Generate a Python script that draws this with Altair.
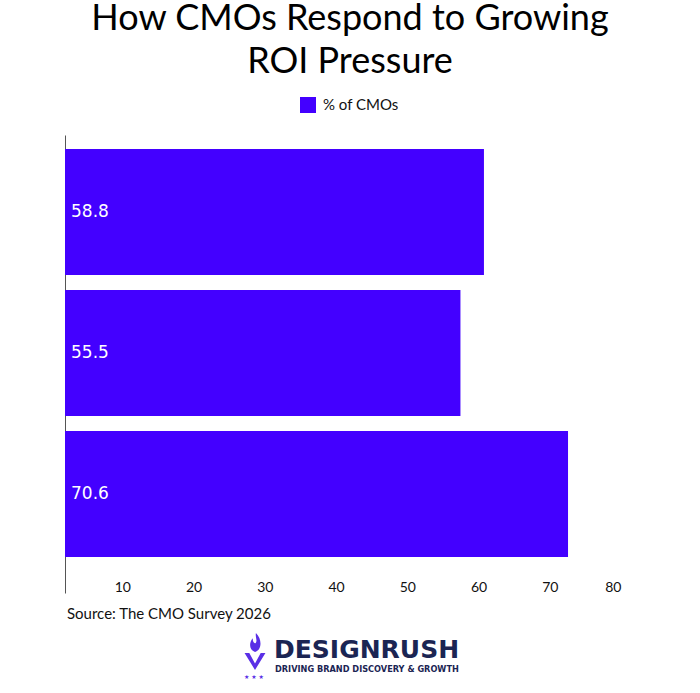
import altair as alt
import pandas as pd

# Survey responses (category names are not shown on the chart)
categories = ["Response A", "Response B", "Response C"]
values = [58.8, 55.5, 70.6]
series_name = "% of CMOs"
tick_values = [10, 20, 30, 40, 50, 60, 70, 80]

BAR_COLOR = "#4300FF"
NAVY = "#1B2553"
LOGO_PURPLE = "#5A2FE6"
FONT = "Lato"

df = pd.DataFrame({"category": categories, "value": values, "series": series_name})

W, H = 570, 458

base = alt.Chart(df)

bars = base.mark_bar(color=BAR_COLOR).encode(
    x=alt.X(
        "value:Q",
        scale=alt.Scale(domain=[0, 80], nice=False, zero=True),
        axis=alt.Axis(
            values=tick_values,
            title=None,
            domain=False,
            ticks=False,
            grid=False,
            labelOffset=-14,
            offset=-15,
            labelFont=FONT,
            labelFontSize=14,
            labelColor="#111111",
        ),
    ),
    y=alt.Y(
        "category:N",
        sort=None,
        scale=alt.Scale(paddingInner=0.106, paddingOuter=0.177, align=0.28),
        axis=alt.Axis(
            title=None,
            labels=False,
            ticks=False,
            domain=True,
            domainColor="#555555",
            domainWidth=1,
            grid=False,
        ),
    ),
    color=alt.Color(
        "series:N",
        scale=alt.Scale(range=[BAR_COLOR]),
        legend=alt.Legend(
            title=None,
            orient="none",
            legendX=235,
            legendY=-38,
            symbolType="square",
            symbolSize=256,
            symbolStrokeWidth=0,
            labelOffset=7,
            labelFont=FONT,
            labelFontSize=15,
            labelColor="#111111",
        ),
    ),
)

labels = base.mark_text(
    align="left", baseline="middle", color="white", font="DejaVu Sans", fontSize=17
).encode(
    x=alt.value(6),
    y=alt.Y("category:N", sort=None),
    text=alt.Text("value:Q", format=".1f"),
)

# Footer: source note and branding
source = alt.Chart(pd.DataFrame({"t": ["Source: The CMO Survey 2026"]})).mark_text(
    align="left", baseline="middle", font=FONT, fontSize=15, color="#111111"
).encode(x=alt.value(2), y=alt.value(479), text="t:N")

brand = alt.Chart(pd.DataFrame({"t": ["DESIGNRUSH"]})).mark_text(
    align="left", baseline="middle", font="DejaVu Sans", fontWeight="bold",
    fontSize=25, color=NAVY
).encode(x=alt.value(209), y=alt.value(515), text="t:N")

tagline = alt.Chart(pd.DataFrame({"t": ["DRIVING BRAND DISCOVERY & GROWTH"]})).mark_text(
    align="left", baseline="middle", font="DejaVu Sans", fontWeight="bold",
    fontSize=8.2, color=NAVY
).encode(x=alt.value(210), y=alt.value(535), text="t:N")

# Logo emblem: a flame above a chevron, drawn as one custom symbol path
EMBLEM = (
    "M-0.55,0.05 L0,0.95 L0.55,0.05 L0.3,0.05 L0,0.6 L-0.3,0.05 Z "
    "M0.05,-1 C0.4,-0.65 0.35,-0.1 0,0 C-0.32,-0.1 -0.32,-0.5 -0.12,-0.72 "
    "C-0.12,-0.5 -0.02,-0.42 0.04,-0.48 C0.14,-0.62 0,-0.8 0.05,-1 Z"
)
icon = alt.Chart(pd.DataFrame({"k": [1]})).mark_point(
    shape=EMBLEM, filled=True, color=LOGO_PURPLE, size=1444, opacity=1, strokeWidth=0
).encode(x=alt.value(190), y=alt.value(517))

stars = alt.Chart(pd.DataFrame({"t": ["★ ★ ★"]})).mark_text(
    align="center", baseline="middle", font="DejaVu Sans", fontSize=6, color=LOGO_PURPLE
).encode(x=alt.value(189), y=alt.value(542), text="t:N")

chart = (
    alt.layer(bars, labels, source, brand, tagline, icon, stars)
    .properties(
        width=W,
        height=H,
        background="white",
        autosize=alt.AutoSizeParams(type="none"),
        padding={"left": 65, "top": 135, "right": 65, "bottom": 100},
        title=alt.TitleParams(
            text=["How CMOs Respond to Growing", "ROI Pressure"],
            font=FONT,
            fontSize=36,
            fontWeight="normal",
            color="#000000",
            anchor="middle",
            lineHeight=43,
            offset=16,
        ),
    )
    .configure_view(strokeWidth=0)
)

chart.save("out.html", embed_options={"renderer": "svg", "actions": False})
